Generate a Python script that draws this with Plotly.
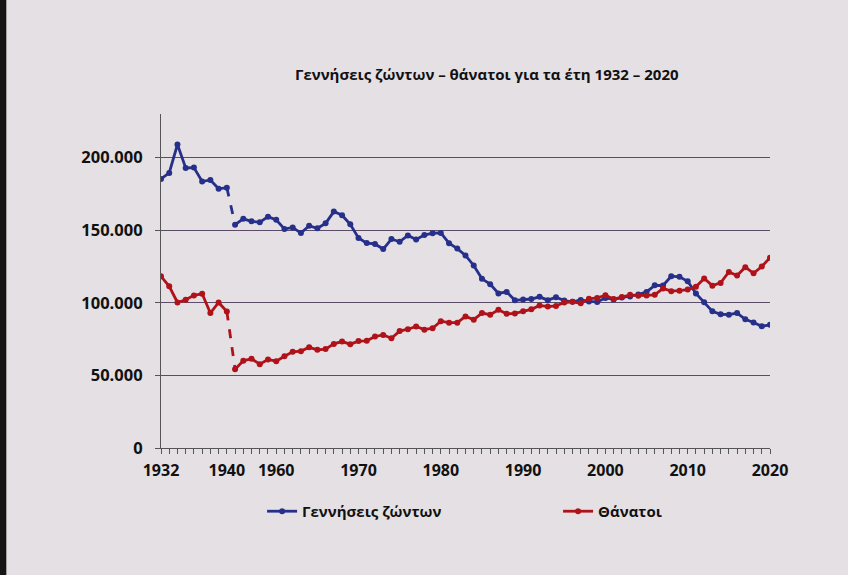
import plotly.graph_objects as go

# Categories (years) - the chart skips 1941-1954
years_prewar = [1932, 1933, 1934, 1935, 1936, 1937, 1938, 1939, 1940]
years_postwar = list(range(1955, 2021))

births_prewar = [185300, 189400, 209000, 192900, 193100, 183500, 184600, 178500, 179300]
births_postwar = [
    153800, 157800, 156100, 155400, 159300, 157100, 150800, 151900, 148000, 153000,  # 1955-1964
    151300, 154700, 162800, 160300, 154000, 144600, 141100, 140500, 137000, 143900,  # 1965-1974
    142000, 146400, 143600, 146600, 147900, 148100, 141000, 137300, 132600, 125700,  # 1975-1984
    116500, 112800, 106400, 107500, 101700, 102200, 102600, 104100, 101800, 103800,  # 1985-1994
    101500, 100700, 102000, 100900, 100600, 103300, 102300, 103600, 104400, 105700,  # 1995-2004
    107500, 112000, 111900, 118300, 117900, 114800, 106400, 100400, 94100, 92100,    # 2005-2014
    91800, 92900, 88600, 86400, 83800, 84800,                                        # 2015-2020
]

deaths_prewar = [118200, 111300, 100200, 102100, 105100, 106200, 92900, 100200, 94000]
deaths_postwar = [
    54300, 60100, 61400, 57700, 61000, 59800, 63200, 66200, 66700, 69300,            # 1955-1964
    67600, 68100, 71700, 73300, 71500, 73600, 73800, 76800, 77900, 75600,            # 1965-1974
    80500, 81800, 83700, 81500, 82500, 87300, 86300, 86300, 90600, 88400,            # 1975-1984
    92900, 91800, 95200, 92400, 92700, 94200, 95500, 98200, 97400, 97800,            # 1985-1994
    100200, 100700, 99700, 102700, 103300, 105200, 102600, 103900, 105500, 104900,   # 1995-2004
    105100, 105500, 109900, 108000, 108300, 109100, 111100, 116700, 111800, 113700,  # 2005-2014
    121200, 118800, 124500, 120300, 125000, 131000,                                  # 2015-2020
]

labelled_years = [1932, 1940, 1960, 1970, 1980, 1990, 2000, 2010, 2020]
y_tick_vals = [0, 50000, 100000, 150000, 200000]
y_tick_text = ["0", "50.000", "100.000", "150.000", "200.000"]

title_text = "Γεννήσεις ζώντων – θάνατοι για τα έτη 1932 – 2020"
name_births = "Γεννήσεις ζώντων"
name_deaths = "Θάνατοι"

# ---------------------------------------------------------------------------
all_years = years_prewar + years_postwar
idx = {y: i for i, y in enumerate(all_years)}
x_pre = [idx[y] for y in years_prewar]
x_post = [idx[y] for y in years_postwar]

BLUE = "#26308a"
RED = "#b0121a"
FONT = "Open Sans"

fig = go.Figure()


def add_series(name, pre, post, color, legend_id):
    xs = x_pre + [None] + x_post
    ys = pre + [None] + post
    hover = [str(all_years[i]) if i is not None else "" for i in xs]
    fig.add_trace(go.Scatter(
        x=xs, y=ys, name=name, mode="lines+markers", legend=legend_id,
        line=dict(color=color, width=2.8),
        marker=dict(color=color, size=6, symbol="circle"),
        text=hover, connectgaps=False,
    ))
    fig.add_trace(go.Scatter(
        x=[x_pre[-1], x_post[0]], y=[pre[-1], post[0]],
        mode="lines", showlegend=False, hoverinfo="skip",
        line=dict(color=color, width=2.8, dash="dash"),
    ))


add_series(name_births, births_prewar, births_postwar, BLUE, "legend")
add_series(name_deaths, deaths_prewar, deaths_postwar, RED, "legend2")

tickvals = list(range(len(all_years)))
ticktext = [str(y) if y in labelled_years else "" for y in all_years]

bg = "#e4e0e4"
legend_font = dict(family=FONT, size=15, color="#111111", weight="bold")

fig.update_layout(
    width=848, height=575,
    paper_bgcolor=bg, plot_bgcolor=bg,
    margin=dict(l=161, r=78, t=114, b=127),
    font=dict(family=FONT, color="#111111"),
    title=dict(text=title_text, x=0.574, xanchor="center", y=0.87, yanchor="middle",
               font=dict(family=FONT, size=15, color="#111111", weight="bold")),
    showlegend=True,
    legend=dict(orientation="h", x=0.166, xanchor="left", y=-0.19, yanchor="middle",
                font=legend_font, bgcolor="rgba(0,0,0,0)", itemwidth=30),
    legend2=dict(orientation="h", x=0.652, xanchor="left", y=-0.19, yanchor="middle",
                 font=legend_font, bgcolor="rgba(0,0,0,0)", itemwidth=30),
    xaxis=dict(
        range=[0, len(all_years) - 1], tickmode="array", tickvals=tickvals, ticktext=ticktext,
        ticks="outside", ticklen=5, tickwidth=1, tickcolor="#555555",
        showline=True, linecolor="#555555", linewidth=1.2, showgrid=False, zeroline=False,
        tickangle=0, tickfont=dict(family=FONT, size=16, color="#111111", weight="bold"),
        ticklabelstandoff=3,
    ),
    yaxis=dict(
        range=[0, 230000], tickmode="array", tickvals=y_tick_vals, ticktext=y_tick_text,
        ticks="outside", ticklen=5, tickwidth=1, tickcolor="#555555",
        showline=True, linecolor="#555555", linewidth=1.2,
        showgrid=True, gridcolor="#5b4d68", gridwidth=1, zeroline=False,
        tickfont=dict(family=FONT, size=16.5, color="#111111", weight="bold"),
        ticklabelstandoff=9,
    ),
)

# dark scan border on the left edge
fig.add_shape(type="rect", xref="paper", yref="paper",
              x0=-0.2644, x1=-0.254, y0=-0.38, y1=1.341,
              fillcolor="#151515", line=dict(width=0), layer="above")

fig.write_html("out.html", config={"displayModeBar": False},
               post_script="document.body.style.margin='0';")
